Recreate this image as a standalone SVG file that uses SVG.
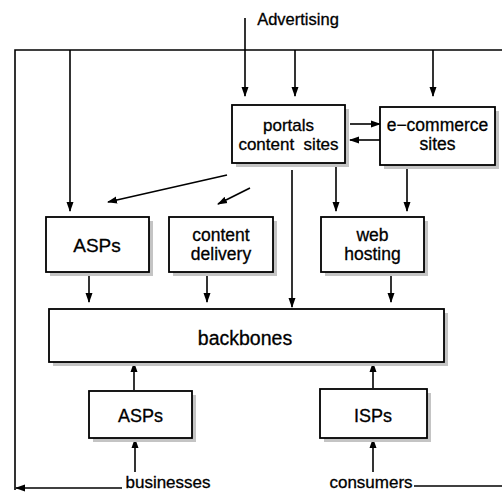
<svg xmlns="http://www.w3.org/2000/svg" width="502" height="492" viewBox="0 0 502 492">
<style>
.box{fill:#fff;stroke:#000;stroke-width:1.8}
.sh{fill:#c4c4c4}
.t{font-family:"Liberation Sans",Arial,sans-serif;fill:#000;text-anchor:middle;stroke:#000;stroke-width:0.3}
.c{fill:none;stroke:#000;stroke-width:1.6}
.a{marker-end:url(#ah)}
</style>
<defs>
<marker id="ah" markerUnits="userSpaceOnUse" markerWidth="10" markerHeight="8" viewBox="0 0 10 8" refX="9" refY="4" orient="auto">
<path d="M0,0.5 L10,4 L0,7.5 Z" fill="#000"/>
</marker>
</defs>
<rect width="502" height="492" fill="#fff"/>
<g id="connectors">
<path class="c" d="M502,50 H15 V490"/>
<path class="c a" d="M122,488 H16"/>
<path class="c" d="M414,486 H502"/>
<path class="c a" d="M245,18 V96"/>
<path class="c a" d="M295,50 V96"/>
<path class="c a" d="M433,50 V96"/>
<path class="c a" d="M70,50 V211"/>
<path class="c a" d="M350,124 H380"/>
<path class="c a" d="M380,140 H350"/>
<path class="c a" d="M227,175 L108,202"/>
<path class="c a" d="M250,188 L218,204"/>
<path class="c a" d="M292,170 V307"/>
<path class="c a" d="M336,167 V211"/>
<path class="c a" d="M407,168 V211"/>
<path class="c a" d="M89,273 V302"/>
<path class="c a" d="M207,273 V302"/>
<path class="c a" d="M391,273 V302"/>
<path class="c a" d="M134,390 V363"/>
<path class="c a" d="M373,388 V363"/>
<path class="c a" d="M135,472 V439"/>
<path class="c a" d="M373,472 V439"/>
</g>
<g id="advertising"><text class="t" x="298" y="25" font-size="16.5">Advertising</text></g>
<g id="portals">
<rect class="sh" x="236" y="109" width="113" height="58"/>
<rect class="box" x="232" y="105" width="113" height="58"/>
<text class="t" x="288.5" y="130.5" font-size="17">portals</text>
<text class="t" x="288.5" y="150" font-size="17" xml:space="preserve">content  sites</text>
</g>
<g id="ecommerce">
<rect class="sh" x="384" y="111" width="115" height="58"/>
<rect class="box" x="380" y="107" width="115" height="58"/>
<text class="t" x="437.5" y="130.5" font-size="17.5">e−commerce</text>
<text class="t" x="437.5" y="149.5" font-size="17.5">sites</text>
</g>
<g id="asps-top">
<rect class="sh" x="50" y="221" width="103" height="55"/>
<rect class="box" x="46" y="217" width="103" height="55"/>
<text class="t" x="97" y="252" font-size="19">ASPs</text>
</g>
<g id="content-delivery">
<rect class="sh" x="173" y="221" width="104" height="55"/>
<rect class="box" x="169" y="217" width="104" height="55"/>
<text class="t" x="221" y="241" font-size="17.5">content</text>
<text class="t" x="221" y="260" font-size="17.5">delivery</text>
</g>
<g id="web-hosting">
<rect class="sh" x="325" y="221" width="103" height="55"/>
<rect class="box" x="321" y="217" width="103" height="55"/>
<text class="t" x="372.5" y="241" font-size="17.5">web</text>
<text class="t" x="372.5" y="260" font-size="17.5">hosting</text>
</g>
<g id="backbones">
<rect class="sh" x="53" y="313" width="395" height="53"/>
<rect class="box" x="49" y="309" width="395" height="53"/>
<text class="t" x="245" y="345" font-size="19.5">backbones</text>
</g>
<g id="asps-bottom">
<rect class="sh" x="93" y="395" width="103" height="47"/>
<rect class="box" x="89" y="391" width="103" height="47"/>
<text class="t" x="140.5" y="421.5" font-size="18">ASPs</text>
</g>
<g id="isps">
<rect class="sh" x="324" y="393" width="107" height="49"/>
<rect class="box" x="320" y="389" width="107" height="49"/>
<text class="t" x="373" y="421.5" font-size="18">ISPs</text>
</g>
<g id="businesses"><text class="t" x="168" y="488" font-size="17">businesses</text></g>
<g id="consumers"><text class="t" x="371" y="488" font-size="17">consumers</text></g>
</svg>
